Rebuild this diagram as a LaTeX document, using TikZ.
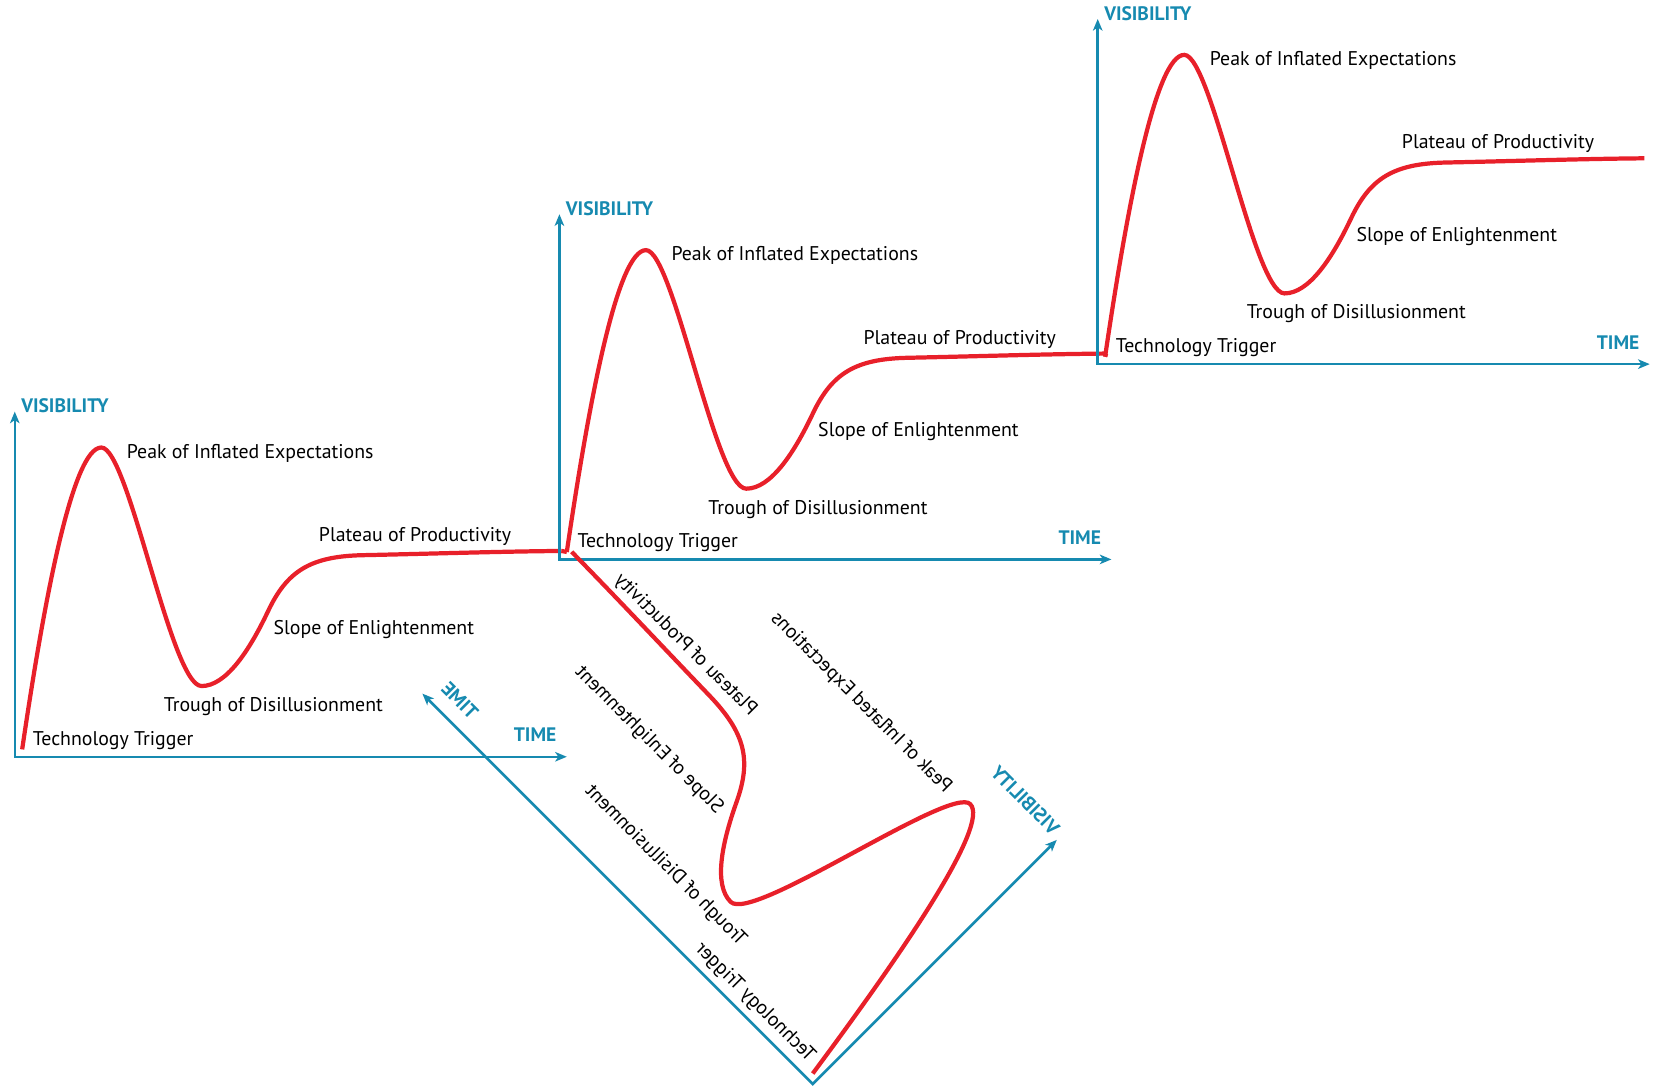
\documentclass[tikz,border=0pt]{standalone}
\usepackage{fontspec}
\setmainfont{PT Sans}
\usetikzlibrary{arrows.meta}
\definecolor{hypeRed}{RGB}{232,32,42}
\definecolor{axisTeal}{RGB}{22,138,176}
\begin{document}
\begin{tikzpicture}[x=1pt,y=1pt,
  axes/.style={draw=axisTeal, line width=2.4pt, line join=miter,
    {Stealth[length=11pt,width=9pt,inset=3pt]}-{Stealth[length=11pt,width=9pt,inset=3pt]}},
  hype/.style={draw=hypeRed, line width=4pt},
  phase/.style={anchor=base west, font=\fontsize{18.8}{19}\selectfont, text=black, inner sep=0pt},
  axislabel/.style={anchor=base, font=\fontsize{18.5}{19}\selectfont\bfseries, text=axisTeal, inner sep=0pt},
  hypecycle/.pic={
    % axes
    \coordinate (-o) at (0,0);
    \coordinate (-vtip) at (0,327);
    \coordinate (-ttip) at (523,0);
    \draw[axes] (-vtip) -- (-o) -- (-ttip);
    \node[axislabel, anchor=base west] (-vis) at (6,326) {VISIBILITY};
    \node[axislabel] (-time) at (493,14) {TIME};
    % the curve
    \coordinate (-start) at (7,7);
    \coordinate (-end) at (518,195);
    \draw[hype] (-start)
      .. controls (28,150) and (55,293) .. (82,293)
      .. controls (108,293) and (148,67) .. (177,67)
      .. controls (200,67) and (222,100) .. (240,138)
      .. controls (258,176) and (280,190) .. (330,191)
      .. controls (400,192.5) and (460,194.5) .. (-end);
    % phase labels
    \node[phase] (-peak) at (106,283) {Peak of Inflated Expectations};
    \node[phase] (-plat) at (288,204) {Plateau of Productivity};
    \node[phase] (-slope) at (245,116) {Slope of Enlightenment};
    \node[phase] (-trough) at (141,43) {Trough of Disillusionment};
    \node[phase] (-trig) at (17,11) {Technology Trigger};
  }]
\useasboundingbox (0,0) rectangle (1568,1032);

\pic (c1) at (14,315) {hypecycle};
\pic (c2) at (530,502) {hypecycle};
\pic (c3) at (1040,687) {hypecycle};
\begin{scope}[cm={-0.7071,0.7071,0.7071,0.7071,(770,5)}, transform shape]
  \pic (c4) at (0,0) {hypecycle};
\end{scope}

% plateau of one cycle runs into the trigger of the next
\draw[hype] (c1-end) -- (c2-start);
\draw[hype] (c2-end) -- (c3-start);
\end{tikzpicture}
\end{document}
